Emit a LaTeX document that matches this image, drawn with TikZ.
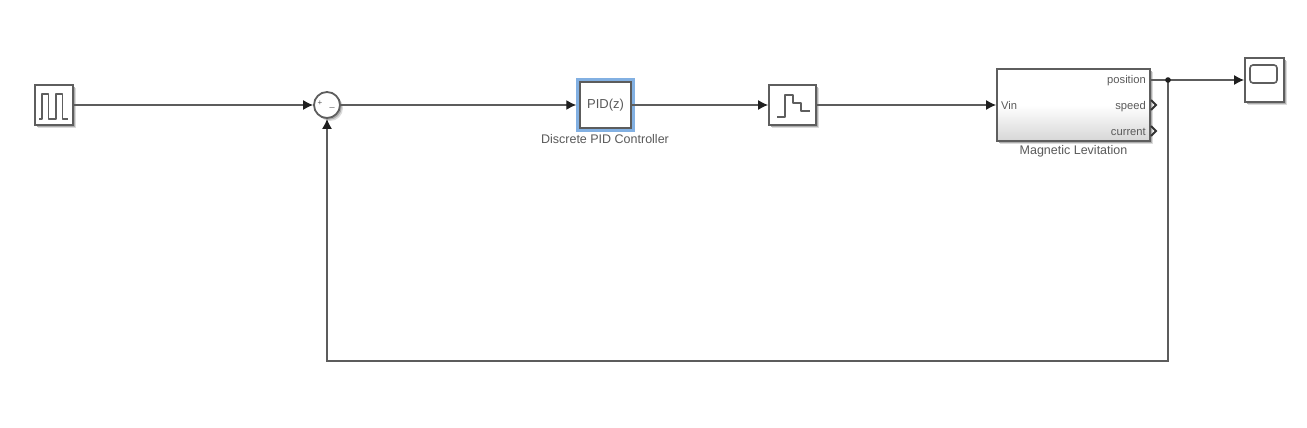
\documentclass[tikz,border=0pt]{standalone}
\usepackage{fontspec}
\setmainfont{Liberation Sans}
\usetikzlibrary{arrows.meta,shadows,calc}
\definecolor{ln}{HTML}{5E5E5E}
\definecolor{wr}{HTML}{5C5C5C}
\definecolor{txt}{HTML}{5A5A5A}
\tikzset{
  x=1pt,y=-1pt,
  softshadow/.style={
    general shadow={shadow xshift=3pt,shadow yshift=-3pt,fill=black!14},
    general shadow={shadow xshift=1.8pt,shadow yshift=-1.8pt,fill=black!32}},
  block/.style={draw=ln,line width=1.8pt,fill=white,inner sep=0pt,minimum width=#1,softshadow},
  wire/.style={draw=wr,line width=1.4pt,-{Latex[length=10pt,width=10pt,color=black!88]}},
  plain/.style={draw=wr,line width=1.4pt},
  lab/.style={font=\fontsize{12.5}{14}\selectfont,text=txt,inner sep=0pt},
  port/.style={font=\fontsize{11.2}{13}\selectfont,text=txt,inner sep=0pt},
  glyph/.style={draw=ln,line width=1.4pt,line join=round},
}
\begin{document}
\begin{tikzpicture}
\useasboundingbox[fill=white] (0,0) rectangle (1307,428);
% blocks
\node[block=38pt,minimum height=40pt] (pulse) at (54,105) {};
\node[block=26pt,circle,minimum size=26pt] (sum) at (327,105) {};
\node[draw=cyan!60!blue!50,line width=4.5pt,inner sep=0pt,minimum width=54pt,minimum height=50pt] (halo) at (605.5,105) {};
\node[draw=wr,line width=1.8pt,fill=white,minimum width=51pt,minimum height=46pt,inner sep=0pt,font=\fontsize{13}{15}\selectfont,text=txt] (pid) at (605.5,105) {PID(z)};
\node[block=47pt,minimum height=40pt] (hold) at (792.5,105) {};
\node[block=153pt,minimum height=72pt,top color=white,bottom color=black!16,middle color=white] (mag) at (1073.5,105) {};
\node[block=39pt,minimum height=44pt] (scope) at (1264.5,80) {};
\coordinate (junction) at (1168,80);
\coordinate (corner1) at (1168,361);
\coordinate (corner2) at (327,361);
% sum signs
\node[port,font=\fontsize{8}{9}\selectfont] (plus) at (320,103) {+};
\node[port,font=\fontsize{9}{9}\selectfont] (minus) at (332,107) {\_};
% pulse glyph
\draw[glyph] (39,119) -- (42,119) -- (42,94) -- (48.5,94) -- (48.5,119) -- (56,119) -- (56,94) -- (62.5,94) -- (62.5,119) -- (68,119);
% hold glyph
\draw[glyph] (777,117) -- (785,117) -- (785,95) -- (793,95) -- (793,103) -- (801,103) -- (801,111) -- (810,111);
% scope glyph
\draw[draw=ln,line width=1.6pt,rounded corners=3pt,fill=white] (1250,65) rectangle (1277,83);
% labels
\node[lab] (pidlab) at (605,139.5) {Discrete PID Controller};
\node[lab] (maglab) at (1073.5,151) {Magnetic Levitation};
\node[port,anchor=west] (vin) at (1001,105) {Vin};
\node[port,anchor=east] (pos) at (1146,81) {position};
\node[port,anchor=east] (spd) at (1146,106.5) {speed};
\node[port,anchor=east] (cur) at (1146,132) {current};
% unused output ports
\draw[draw=black!80,line width=1.8pt] (1151,100) -- (1156,105) -- (1151,110);
\draw[draw=black!80,line width=1.8pt] (1151,126) -- (1156,131) -- (1151,136);
% connectors
\draw[wire] (pulse.east) -- (sum.west);
\draw[wire] (sum.east) -- (halo.west);
\draw[wire] (pid.east) -- (hold.west);
\draw[wire] (hold.east) -- (mag.west);
\draw[plain] (mag.east |- junction) -- (junction);
\draw[wire] (junction) -- (scope.west);
\draw[wire] (junction) -- (corner1) -- (corner2) -- (sum.south);
\fill[black!88] (junction) circle (2.8pt);
\end{tikzpicture}
\end{document}
